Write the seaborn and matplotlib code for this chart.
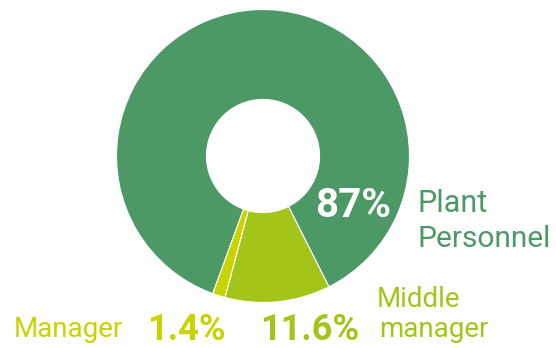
import matplotlib
matplotlib.use("Agg")
import matplotlib.pyplot as plt
import seaborn as sns

categories = ["Plant Personnel", "Manager", "Middle manager"]
values = [87.0, 1.4, 11.6]
value_labels = ["87%", "1.4%", "11.6%"]
colors = ["#4d9966", "#c8d300", "#a3c51a"]

sns.set_theme(style="white")
plt.rcParams["font.family"] = ["Roboto", "DejaVu Sans"]

W, H = 556, 348
fig = plt.figure(figsize=(W / 100, H / 100), dpi=100)
fig.patch.set_facecolor("white")

cx, cy, R = 263, 156, 146.5
ax = fig.add_axes([(cx - R) / W, (H - cy - R) / H, 2 * R / W, 2 * R / H])
ax.pie(values, colors=colors, startangle=-63.25, counterclock=True,
       wedgeprops=dict(width=0.614, edgecolor="white", linewidth=0.8))
ax.set_xlim(-1, 1)
ax.set_ylim(-1, 1)
ax.set_aspect("equal")
ax.axis("off")


def px(x, y):
    return x / W, 1 - y / H


# Plant Personnel
fig.text(*px(353, 217), value_labels[0], color="white", fontsize=29,
         fontweight="bold", ha="center", va="baseline")
fig.text(*px(417, 212), "Plant", color=colors[0], fontsize=22, ha="left", va="baseline")
fig.text(*px(417, 247), "Personnel", color=colors[0], fontsize=21.5, ha="left", va="baseline")

# Middle manager
fig.text(*px(310, 340), value_labels[2], color=colors[2], fontsize=26,
         fontweight="bold", ha="center", va="baseline")
fig.text(*px(377, 307), "Middle", color=colors[2], fontsize=20, ha="left", va="baseline")
fig.text(*px(379, 337), "manager", color=colors[2], fontsize=20, ha="left", va="baseline")

# Manager
fig.text(*px(186, 340), value_labels[1], color=colors[1], fontsize=26,
         fontweight="bold", ha="center", va="baseline")
fig.text(*px(14, 337), "Manager", color=colors[1], fontsize=20, ha="left", va="baseline")

fig.savefig("out.png", dpi=100, facecolor="white")
